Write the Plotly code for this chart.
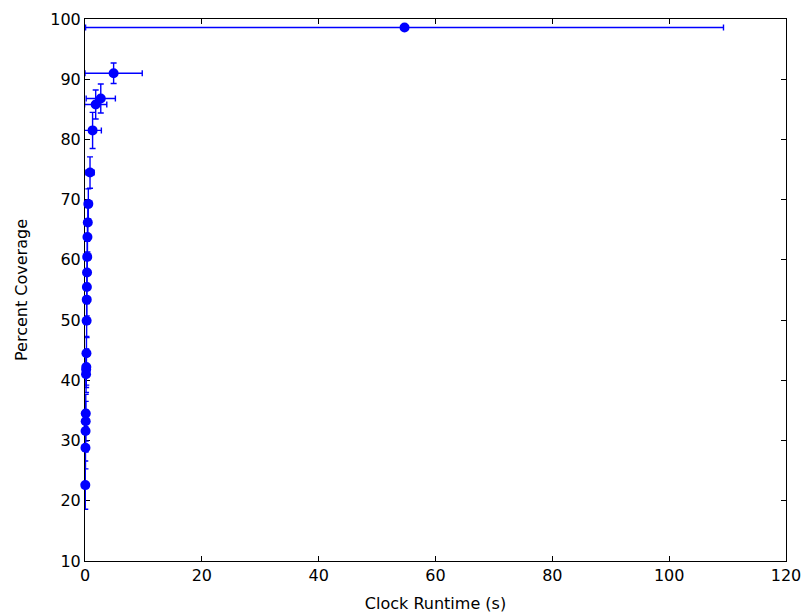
import plotly.graph_objects as go

runtime = [0.05, 0.08, 0.10, 0.12, 0.13, 0.18, 0.20, 0.22, 0.25, 0.28, 0.30, 0.32, 0.35, 0.38, 0.42, 0.48, 0.57, 0.86, 1.30, 1.83, 2.70, 4.90, 54.70]
runtime_err = [0.03, 0.05, 0.06, 0.07, 0.07, 0.10, 0.12, 0.12, 0.14, 0.15, 0.16, 0.18, 0.20, 0.22, 0.24, 0.28, 0.35, 0.70, 1.50, 1.90, 2.50, 4.90, 54.60]
coverage = [22.6, 28.8, 31.6, 33.2, 34.5, 41.0, 41.8, 42.2, 44.5, 49.9, 53.4, 55.5, 57.9, 60.5, 63.8, 66.2, 69.3, 74.5, 81.5, 85.8, 86.8, 91.0, 98.6]
coverage_err = [4.0, 3.5, 3.5, 3.3, 3.2, 3.0, 3.0, 3.0, 2.8, 2.8, 2.7, 2.7, 2.6, 2.6, 2.5, 2.5, 2.5, 2.6, 3.0, 2.4, 2.4, 1.7, 0.3]

x_ticks = [0, 20, 40, 60, 80, 100, 120]
y_ticks = [10, 20, 30, 40, 50, 60, 70, 80, 90, 100]

fig = go.Figure()
fig.add_trace(go.Scatter(
    x=runtime, y=coverage, mode="markers",
    marker=dict(color="#0000ff", size=10, line=dict(width=0)),
    error_x=dict(type="data", array=runtime_err, color="#0000ff", thickness=1.4, width=3),
    error_y=dict(type="data", array=coverage_err, color="#0000ff", thickness=1.4, width=3),
    showlegend=False,
    cliponaxis=False,
))

axis_common = dict(
    showline=True, linecolor="black", linewidth=1, mirror="ticks",
    ticks="inside", ticklen=5, tickcolor="black", tickwidth=1,
    showgrid=False, zeroline=False, automargin=False, layer="below traces",
    tickfont=dict(family="DejaVu Sans", size=16, color="black"),
    title_font=dict(family="DejaVu Sans", size=16, color="black"),
)

fig.update_xaxes(range=[0, 120], tickvals=x_ticks, title_text="Clock Runtime (s)", title_standoff=13, **axis_common)
fig.update_yaxes(range=[10, 100], tickvals=y_ticks, title_text="Percent Coverage", title_standoff=18, **axis_common)

fig.update_layout(
    width=806, height=615,
    margin=dict(l=85, r=20, t=19, b=54),
    plot_bgcolor="white", paper_bgcolor="white",
    font=dict(family="DejaVu Sans", color="black"),
)

fig.write_html(
    "out.html",
    config={"displayModeBar": False},
    post_script="document.body.style.margin='0';document.body.style.overflow='hidden';",
)
